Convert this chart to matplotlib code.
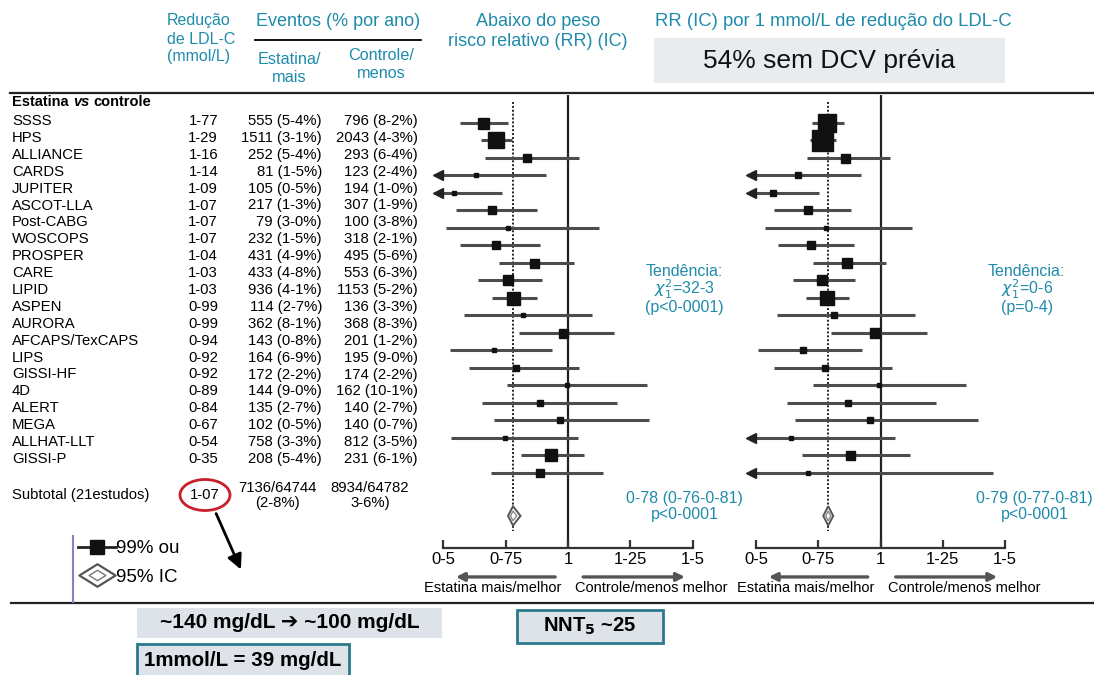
import numpy as np
import matplotlib
matplotlib.use("Agg")
import matplotlib.pyplot as plt
from matplotlib.patches import Rectangle, Ellipse, Polygon
from matplotlib.lines import Line2D
from matplotlib.legend_handler import HandlerTuple
from matplotlib.path import Path

plt.rcParams['font.family'] = ['Liberation Sans', 'DejaVu Sans']

# ---------------- data ----------------
studies = ['SSSS', 'HPS', 'ALLIANCE', 'CARDS', 'JUPITER', 'ASCOT-LLA', 'Post-CABG',
           'WOSCOPS', 'PROSPER', 'CARE', 'LIPID', 'ASPEN', 'AURORA', 'AFCAPS/TexCAPS',
           'LIPS', 'GISSI-HF', '4D', 'ALERT', 'MEGA', 'ALLHAT-LLT', 'GISSI-P']
ldl_red = ['1-77', '1-29', '1-16', '1-14', '1-09', '1-07', '1-07', '1-07', '1-04', '1-03',
           '1-03', '0-99', '0-99', '0-94', '0-92', '0-92', '0-89', '0-84', '0-67', '0-54', '0-35']
ev_statin = ['555 (5-4%)', '1511 (3-1%)', '252 (5-4%)', '81 (1-5%)', '105 (0-5%)',
             '217 (1-3%)', '79 (3-0%)', '232 (1-5%)', '431 (4-9%)', '433 (4-8%)',
             '936 (4-1%)', '114 (2-7%)', '362 (8-1%)', '143 (0-8%)', '164 (6-9%)',
             '172 (2-2%)', '144 (9-0%)', '135 (2-7%)', '102 (0-5%)', '758 (3-3%)', '208 (5-4%)']
ev_control = ['796 (8-2%)', '2043 (4-3%)', '293 (6-4%)', '123 (2-4%)', '194 (1-0%)',
              '307 (1-9%)', '100 (3-8%)', '318 (2-1%)', '495 (5-6%)', '553 (6-3%)',
              '1153 (5-2%)', '136 (3-3%)', '368 (8-3%)', '201 (1-2%)', '195 (9-0%)',
              '174 (2-2%)', '162 (10-1%)', '140 (2-7%)', '140 (0-7%)', '812 (3-5%)', '231 (6-1%)']
subtotal_label = 'Subtotal (21estudos)'
subtotal_ldl = '1-07'
subtotal_statin = ['7136/64744', '(2-8%)']
subtotal_control = ['8934/64782', '3-6%)']

nan = np.nan
# RR (left panel); nan lower = CI runs off the scale (arrow)
rr_est = [0.658, 0.712, 0.837, 0.632, 0.542, 0.694, 0.759, 0.710, 0.864, 0.759, 0.781,
          0.820, 0.979, 0.703, 0.793, 0.995, 0.887, 0.968, 0.746, 0.931, 0.887]
rr_lo = [0.569, 0.653, 0.669, nan, nan, 0.552, 0.512, 0.566, 0.723, 0.638, 0.694,
         0.585, 0.806, 0.528, 0.602, 0.754, 0.656, 0.703, 0.531, 0.814, 0.692]
rr_hi = [0.759, 0.777, 1.046, 0.914, 0.737, 0.875, 1.126, 0.888, 1.026, 0.898, 0.875,
         1.096, 1.184, 0.935, 1.043, 1.317, 1.198, 1.325, 1.039, 1.063, 1.140]
rr_w = [11, 16, 8, 5, 5, 8, 4, 8, 9, 10, 13, 5, 9, 5, 6, 5, 6, 6, 5, 12, 8]

# RR per 1 mmol/L (right panel)
rrm_est = [0.786, 0.766, 0.857, 0.667, 0.567, 0.710, 0.780, 0.720, 0.867, 0.764, 0.786,
           0.815, 0.976, 0.687, 0.777, 0.994, 0.871, 0.958, 0.639, 0.878, 0.710]
rrm_lo = [0.724, 0.717, 0.703, nan, nan, 0.572, 0.536, 0.587, 0.730, 0.650, 0.701,
          0.583, 0.800, 0.509, 0.572, 0.730, 0.623, 0.657, nan, 0.684, nan]
rrm_hi = [0.855, 0.821, 1.038, 0.920, 0.754, 0.880, 1.128, 0.894, 1.022, 0.898, 0.873,
          1.139, 1.186, 0.927, 1.047, 1.343, 1.222, 1.393, 1.059, 1.120, 1.453]
rrm_w = [18, 21, 9, 6, 6, 8, 4, 8, 10, 10, 14, 6, 10, 6, 6, 5, 6, 6, 5, 9, 4]

pooled_left = (0.78, 0.76, 0.81)
pooled_right = (0.79, 0.77, 0.81)
pooled_left_txt = ['0-78 (0-76-0-81)', 'p<0-0001']
pooled_right_txt = ['0-79 (0-77-0-81)', 'p<0-0001']
trend_left = ['Tendência:', r'$\chi^2_1$=32-3', '(p<0-0001)']
trend_right = ['Tendência:', r'$\chi^2_1$=0-6', '(p=0-4)']

xticks = [0.5, 0.75, 1.0, 1.25, 1.5]
xticklabels = ['0-5', '0-75', '1', '1-25', '1-5']

TEAL = '#1f8bab'
W, H = 1094, 675

fig = plt.figure(figsize=(W / 100, H / 100), dpi=100)
ov = fig.add_axes([0, 0, 1, 1])
ov.set_xlim(0, W)
ov.set_ylim(H, 0)
ov.axis('off')


def px_axes(x0, y0, x1, y1):
    return fig.add_axes([x0 / W, 1 - y1 / H, (x1 - x0) / W, (y1 - y0) / H])


# ---------------- header ----------------
for k, s in enumerate(['Redução', 'de LDL-C', '(mmol/L)']):
    ov.text(167, 21 + 18 * k, s, color=TEAL, fontsize=11.5, ha='left', va='center')
ov.text(338, 21, 'Eventos (% por ano)', color=TEAL, fontsize=13, ha='center', va='center')
ov.plot([255, 421], [40, 40], color='black', lw=1.3)
ov.text(289, 59, 'Estatina/', color=TEAL, fontsize=11.7, ha='center', va='center')
ov.text(289, 77, 'mais', color=TEAL, fontsize=11.7, ha='center', va='center')
ov.text(381, 55, 'Controle/', color=TEAL, fontsize=11.7, ha='center', va='center')
ov.text(381, 73, 'menos', color=TEAL, fontsize=11.7, ha='center', va='center')
ov.text(538, 22, 'Abaixo do peso', color=TEAL, fontsize=13, ha='center', va='center')
ov.text(538, 42, 'risco relativo (RR) (IC)', color=TEAL, fontsize=13, ha='center', va='center')
ov.text(655, 21, 'RR (IC) por 1 mmol/L de redução do LDL-C', color=TEAL, fontsize=13.3,
        ha='left', va='center')
ov.add_patch(Rectangle((654, 38), 351, 45, facecolor='#e9ecef', edgecolor='none'))
ov.text(829, 61, '54% sem DCV prévia', fontsize=19, ha='center', va='center', color='#111')

ov.plot([10, W], [93, 93], color='#222', lw=1.6)
ov.plot([11, W], [603, 603], color='#222', lw=1.6)

# ---------------- table ----------------
t1 = ov.text(12, 102, 'Estatina', fontsize=10.5, weight='bold', ha='left', va='center')
t2 = ov.annotate('vs', xy=(1, 0), xycoords=t1, xytext=(3, 0), textcoords='offset points',
                 fontsize=10.5, weight='bold', style='italic', ha='left', va='bottom')
ov.annotate('controle', xy=(1, 0), xycoords=t2, xytext=(3, 0), textcoords='offset points',
            fontsize=10.5, weight='bold', ha='left', va='bottom')

row_y0, row_dy = 121, 16.9
for i, name in enumerate(studies):
    y = row_y0 + row_dy * i
    ov.text(12, y, name, fontsize=10.7, ha='left', va='center')
    ov.text(218, y, ldl_red[i], fontsize=10.7, ha='right', va='center')
    ov.text(322, y, ev_statin[i], fontsize=10.7, ha='right', va='center')
    ov.text(418, y, ev_control[i], fontsize=10.7, ha='right', va='center')

ov.text(12, 495, subtotal_label, fontsize=10.7, ha='left', va='center')
ov.text(205, 495, subtotal_ldl, fontsize=10.7, ha='center', va='center')
ov.text(277, 488, subtotal_statin[0], fontsize=10.7, ha='center', va='center')
ov.text(277, 503, subtotal_statin[1], fontsize=10.7, ha='center', va='center')
ov.text(370, 488, subtotal_control[0], fontsize=10.7, ha='center', va='center')
ov.text(370, 503, subtotal_control[1], fontsize=10.7, ha='center', va='center')

ov.add_patch(Ellipse((205, 495), 50, 31, fill=False, edgecolor='#c8202a', lw=2))
ov.annotate('', xy=(242, 572), xytext=(215, 511),
            arrowprops=dict(arrowstyle='-|>', color='black', lw=2, mutation_scale=22))

# ---------------- legend ----------------
ov.plot([73, 73], [536, 602], color='#8a80c0', lw=1.5)
dia = Path([(-1.6, 0), (0, 1), (1.6, 0), (0, -1), (-1.6, 0)],
           [Path.MOVETO, Path.LINETO, Path.LINETO, Path.LINETO, Path.CLOSEPOLY])
h1 = Line2D([], [], color='#222', lw=2, marker='s', markersize=10,
            markerfacecolor='#111', markeredgecolor='#111')
h2a = Line2D([], [], ls='none', marker=dia, markersize=26, markerfacecolor='white',
             markeredgecolor='#555', markeredgewidth=1.6)
h2b = Line2D([], [], ls='none', marker=dia, markersize=12, markerfacecolor='white',
             markeredgecolor='#777', markeredgewidth=1.0)
leg = ov.legend([h1, (h2a, h2b)], ['99% ou', '95% IC'],
                handler_map={tuple: HandlerTuple(ndivide=1)},
                loc='upper left', bbox_to_anchor=(78, 540), bbox_transform=ov.transData,
                frameon=False, fontsize=13.5, handlelength=2.0, handletextpad=0.05,
                borderpad=0, borderaxespad=0, labelspacing=0.6)

# ---------------- bottom boxes ----------------
ov.add_patch(Rectangle((137, 608), 305, 30, facecolor='#dde3e9', edgecolor='none'))
ov.text(289.5, 623, '~140 mg/dL ➔ ~100 mg/dL', fontsize=15, weight='bold',
        ha='center', va='center')
ov.add_patch(Rectangle((137, 644), 212, 34, facecolor='#dde3e9', edgecolor='#2b7a8c', lw=2))
ov.text(243, 660, '1mmol/L = 39 mg/dL', fontsize=14.8, weight='bold', ha='center', va='center')
ov.add_patch(Rectangle((517, 610), 146, 33, facecolor='#dde3e9', edgecolor='#2b7a8c', lw=2))
ov.text(590, 626, r'NNT$_\mathbf{5}$ ~25', fontsize=14.5, weight='bold', ha='center', va='center')


# ---------------- forest panels ----------------
def forest(ax, est, lo, hi, w, pooled, pooled_txt, trend, xlim, trend_x, pool_x):
    n = len(est)
    rows = np.arange(n)
    ax.set_facecolor('none')
    ax.set_xlim(*xlim)
    ax.set_ylim(24.286, -1.6)
    sub_pos = 22.45
    ax.axvline(1.0, color='#222', lw=1.6, zorder=1)
    ax.vlines(pooled[0], -1.2, 23.3, colors='#222', linestyles=(0, (1.0, 1.0)), lw=1.4, zorder=1)
    for i in rows:
        if np.isnan(lo[i]):
            ax.hlines(i, 0.48, hi[i], colors='#4d4d4d', lw=2.2, zorder=2)
            ax.plot(0.478, i, marker='<', ms=7, color='#222', zorder=3)
        else:
            ax.hlines(i, lo[i], hi[i], colors='#4d4d4d', lw=2.2, zorder=2)
        ax.plot(est[i], i, marker='s', ms=w[i] * 0.72, color='#111', zorder=4)
    e, l, h = pooled
    ax.add_patch(Polygon([(l, sub_pos), (e, sub_pos - 0.55), (h, sub_pos), (e, sub_pos + 0.55)],
                         closed=True, facecolor='white', edgecolor='#555', lw=1.4, zorder=5))
    ax.add_patch(Polygon([(e - (e - l) * 0.5, sub_pos), (e, sub_pos - 0.28),
                          (e + (h - e) * 0.5, sub_pos), (e, sub_pos + 0.28)],
                         closed=True, facecolor='white', edgecolor='#888', lw=1.0, zorder=6))
    for k, s in enumerate(trend):
        ax.text(trend_x, 8.5 + 1.03 * k, s, color=TEAL, fontsize=11.5, ha='center', va='center')
    ax.text(pool_x, 21.43, pooled_txt[0], color=TEAL, fontsize=11.5, ha='center', va='center')
    ax.text(pool_x, 22.4, pooled_txt[1], color=TEAL, fontsize=11.5, ha='center', va='center')
    for sp in ['top', 'left', 'right']:
        ax.spines[sp].set_visible(False)
    ax.spines['bottom'].set_bounds(0.5, 1.5)
    ax.spines['bottom'].set_linewidth(1.6)
    ax.spines['bottom'].set_color('#333')
    ax.set_yticks([])
    ax.set_xticks(xticks)
    ax.set_xticklabels(xticklabels)
    ax.tick_params(axis='x', direction='in', length=6, width=1.6, color='#333',
                   labelsize=12, pad=3)
    ax.annotate('', xy=(0.54, 25.94), xytext=(0.96, 25.94),
                arrowprops=dict(arrowstyle='-|>', color='#555', lw=2.4, mutation_scale=12),
                annotation_clip=False)
    ax.annotate('', xy=(1.48, 25.94), xytext=(1.05, 25.94),
                arrowprops=dict(arrowstyle='-|>', color='#555', lw=2.4, mutation_scale=12),
                annotation_clip=False)
    ax.text(0.70, 26.55, 'Estatina mais/melhor', fontsize=10.5, ha='center', va='center',
            clip_on=False)
    ax.text(1.335, 26.55, 'Controle/menos melhor', fontsize=10.5, ha='center', va='center',
            clip_on=False)


axL = px_axes(425, 95, 735, 548)
axR = px_axes(740, 95, 1094, 548)
forest(axL, rr_est, rr_lo, rr_hi, rr_w, pooled_left, pooled_left_txt, trend_left,
       (0.4274, 1.6694), 1.468, 1.468)
forest(axR, rrm_est, rrm_lo, rrm_hi, rrm_w, pooled_right, pooled_right_txt, trend_right,
       (0.4357, 1.8574), 1.587, 1.618)

fig.savefig('out.png', dpi=100)
